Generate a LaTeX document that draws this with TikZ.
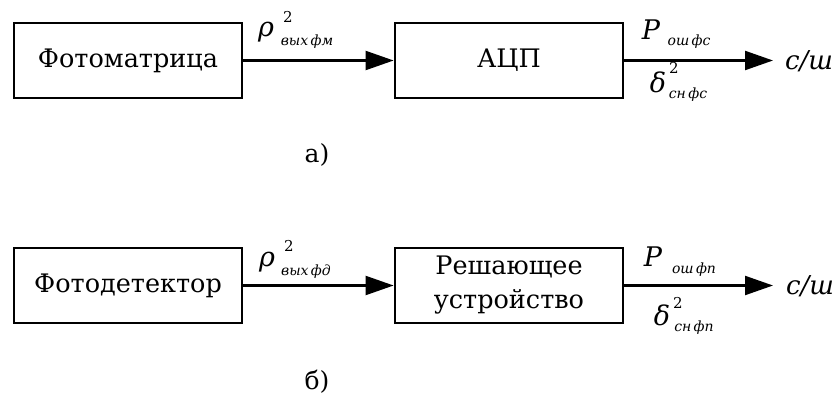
\documentclass[tikz,border=0pt]{standalone}
\usepackage{fontspec}
\setmainfont{DejaVu Serif}
\usetikzlibrary{arrows.meta}
\begin{document}
\begin{tikzpicture}[x=1pt,y=-1pt,
  block/.style={draw,line width=2.8pt,minimum width=228pt,minimum height=75pt,
    inner sep=0pt,font=\fontsize{25.5}{34}\selectfont,align=center},
  flow/.style={line width=2.2pt,-{Triangle[length=28pt,width=19pt]}},
  sym/.style={inner sep=0pt,font=\fontsize{27}{30}\selectfont\itshape},
  sup/.style={inner sep=0pt,font=\fontsize{15}{16}\selectfont},
  sub/.style={inner sep=0pt,font=\fontsize{14}{15}\selectfont\itshape},
  caption/.style={inner sep=0pt,font=\fontsize{25}{30}\selectfont}]
\useasboundingbox (0,0) rectangle (839,396);

% a) photomatrix chain
\node[block] (fm) at (128,60.5) {Фотоматрица};
\node[block] (adc) at (509,60.5) {АЦП};
\coordinate (outa) at (773,60.5);
\draw[flow] (fm) -- (adc);
\draw[flow] (adc) -- (outa);
\node[inner sep=0pt,font=\fontsize{26}{30}\selectfont\itshape] (sna) at (809,61) {с/ш};

\node[sym] (rhoa) at (266,32) {ρ};
\node[sup] (rhoa2) at (288,17) {2};
\node[sub] (rhoas) at (307,42) {вых\,фм};

\node[sym] (pa) at (651,30) {P};
\node[sub] (pas) at (689,42) {ош\,фс};
\node[sym] (da) at (658,82) {δ};
\node[sup] (da2) at (674,68) {2};
\node[sub] (das) at (688,95) {сн\,фс};

\node[caption] (capa) at (317,155) {а)};

% b) photodetector chain
\node[block] (fd) at (128,285.5) {Фотодетектор};
\node[block] (dec) at (509,285.5) {Решающее\\устройство};
\coordinate (outb) at (773,285.5);
\draw[flow] (fd) -- (dec);
\draw[flow] (dec) -- (outb);
\node[inner sep=0pt,font=\fontsize{26}{30}\selectfont\itshape] (snb) at (810,286) {с/ш};

\node[sym] (rhob) at (267,262) {ρ};
\node[sup] (rhob2) at (289,246) {2};
\node[sub] (rhobs) at (306,272) {вых\,фд};

\node[sym] (pb) at (653,257) {P};
\node[sub] (pbs) at (694,270) {ош\,фп};
\node[sym] (db) at (662,315) {δ};
\node[sup] (db2) at (678,303) {2};
\node[sub] (dbs) at (694,328) {сн\,фп};

\node[caption] (capb) at (317,382) {б)};
\end{tikzpicture}
\end{document}
